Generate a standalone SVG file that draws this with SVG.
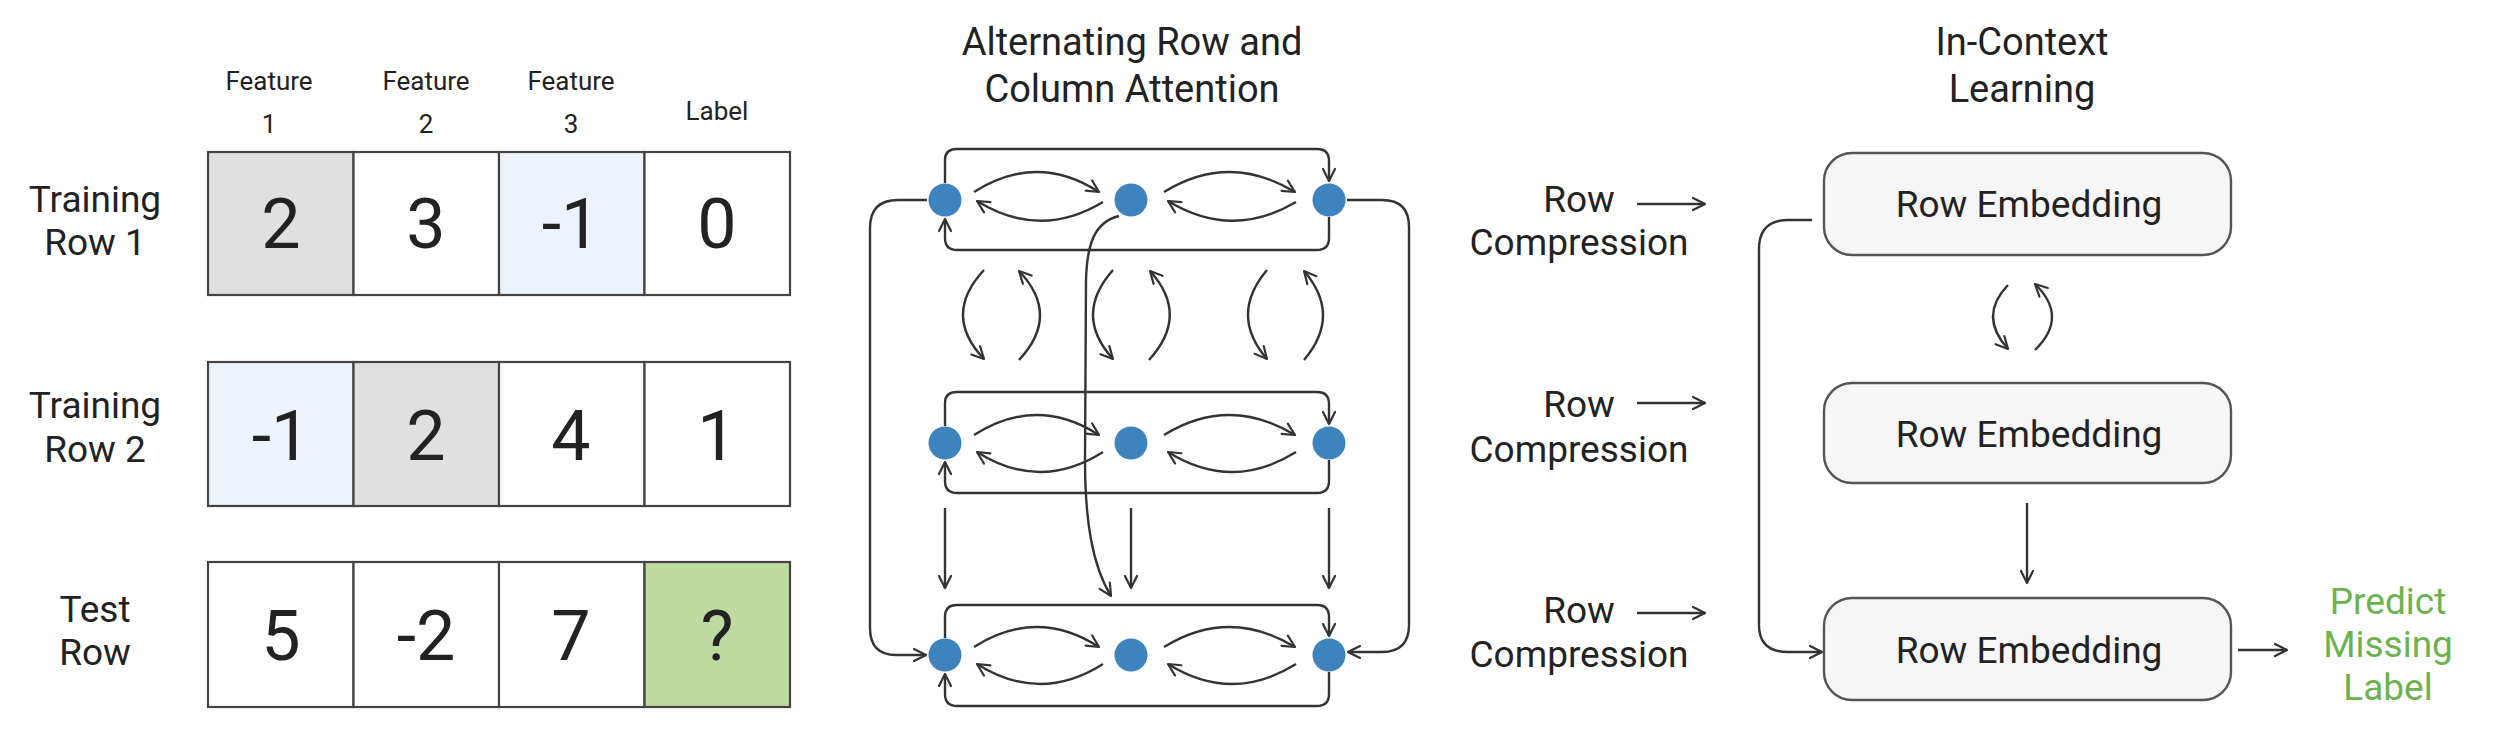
<svg xmlns="http://www.w3.org/2000/svg" width="2500" height="749" viewBox="0 0 2500 749">
<defs>
<style>
text{font-family:Roboto,"Liberation Sans",sans-serif;fill:#222;}
.hd{font-size:26px;text-anchor:middle;}
.rl{font-size:37px;text-anchor:middle;}
.num{font-size:70px;text-anchor:middle;}
.ttl{font-size:38px;text-anchor:middle;}
.emb{font-size:37px;text-anchor:middle;}
.pred{font-size:37px;text-anchor:middle;fill:#6cb350;}
.cell{stroke:#444;stroke-width:2.2;}
.c{fill:none;stroke:#333;stroke-width:2.4;}
.a{marker-end:url(#ah);}
.nd{fill:#3d84bf;}
.box{fill:#f5f6f5;stroke:#555;stroke-width:2.4;}
</style>
<marker id="ah" viewBox="0 0 16 16" refX="14" refY="8" markerWidth="16" markerHeight="16" markerUnits="userSpaceOnUse" orient="auto">
<path d="M2,2 L14,8 L2,14" fill="none" stroke="#333" stroke-width="2.2" stroke-linecap="round" stroke-linejoin="round"/>
</marker>
</defs>
<rect width="2500" height="749" fill="#fff"/>

<g id="headers">
<text class="hd" x="269" y="90">Feature</text><text class="hd" x="269" y="133">1</text>
<text class="hd" x="426" y="90">Feature</text><text class="hd" x="426" y="133">2</text>
<text class="hd" x="571" y="90">Feature</text><text class="hd" x="571" y="133">3</text>
<text class="hd" x="717" y="120">Label</text>
</g>

<g id="row1">
<text class="rl" x="95" y="212">Training</text><text class="rl" x="95" y="255">Row 1</text>
<rect class="cell" x="208" y="152" width="145.5" height="143" fill="#dfe0df"/>
<rect class="cell" x="353.5" y="152" width="145.5" height="143" fill="#fff"/>
<rect class="cell" x="499" y="152" width="145.5" height="143" fill="#edf3fa"/>
<rect class="cell" x="644.5" y="152" width="145.5" height="143" fill="#fff"/>
<text class="num" x="281" y="248">2</text>
<text class="num" x="426" y="248">3</text>
<text class="num" x="571" y="248">-1</text>
<text class="num" x="717" y="248">0</text>
</g>

<g id="row2">
<text class="rl" x="95" y="418">Training</text><text class="rl" x="95" y="462">Row 2</text>
<rect class="cell" x="208" y="362" width="145.5" height="144" fill="#edf3fa"/>
<rect class="cell" x="353.5" y="362" width="145.5" height="144" fill="#dfe0df"/>
<rect class="cell" x="499" y="362" width="145.5" height="144" fill="#fff"/>
<rect class="cell" x="644.5" y="362" width="145.5" height="144" fill="#fff"/>
<text class="num" x="281" y="460">-1</text>
<text class="num" x="426" y="460">2</text>
<text class="num" x="571" y="460">4</text>
<text class="num" x="717" y="460">1</text>
</g>

<g id="row3">
<text class="rl" x="95" y="622">Test</text><text class="rl" x="95" y="665">Row</text>
<rect class="cell" x="208" y="562" width="145.5" height="145" fill="#fff"/>
<rect class="cell" x="353.5" y="562" width="145.5" height="145" fill="#fff"/>
<rect class="cell" x="499" y="562" width="145.5" height="145" fill="#fff"/>
<rect class="cell" x="644.5" y="562" width="145.5" height="145" fill="#bfdba0"/>
<text class="num" x="281" y="660">5</text>
<text class="num" x="426" y="660">-2</text>
<text class="num" x="571" y="660">7</text>
<text class="num" x="717" y="660">?</text>
</g>

<g id="title-attention">
<text class="ttl" x="1132" y="55">Alternating Row and</text>
<text class="ttl" x="1132" y="102">Column Attention</text>
</g>
<g id="title-icl">
<text class="ttl" x="2022" y="55">In-Context</text>
<text class="ttl" x="2022" y="102">Learning</text>
</g>

<g id="connectors">
<!-- row 1 (Y=200) -->
<path class="c a" d="M945,183 V160 Q945,149 957,149 H1317 Q1329,149 1329,161 V181"/>
<path class="c a" d="M1329,217 V238 Q1329,250 1317,250 H957 Q945,250 945,238 V219"/>
<path class="c a" d="M974,192 Q1037,152 1099,192"/>
<path class="c a" d="M1103,202 Q1040,240 977,201"/>
<path class="c a" d="M1164,192 Q1229,152 1295,192"/>
<path class="c a" d="M1296,202 Q1232,240 1168,201"/>
<!-- row 2 (Y=443) -->
<path class="c a" d="M945,426 V403 Q945,392 957,392 H1317 Q1329,392 1329,404 V424"/>
<path class="c a" d="M1329,460 V481 Q1329,493 1317,493 H957 Q945,493 945,481 V462"/>
<path class="c a" d="M974,435 Q1037,395 1099,435"/>
<path class="c a" d="M1103,452 Q1040,492 977,452"/>
<path class="c a" d="M1164,435 Q1229,395 1295,435"/>
<path class="c a" d="M1296,452 Q1232,492 1168,452"/>
<!-- row 3 (Y=655) -->
<path class="c a" d="M945,638 V617 Q945,605 957,605 H1317 Q1329,605 1329,617 V636"/>
<path class="c a" d="M1329,672 V694 Q1329,706 1317,706 H957 Q945,706 945,694 V674"/>
<path class="c a" d="M974,647 Q1037,607 1099,647"/>
<path class="c a" d="M1103,664 Q1040,704 977,664"/>
<path class="c a" d="M1164,647 Q1229,607 1295,647"/>
<path class="c a" d="M1296,664 Q1232,704 1168,664"/>
<!-- column attention row1-row2 -->
<path class="c a" d="M984,270 Q942,315 984,359"/>
<path class="c a" d="M1019,360 Q1061,315 1019,271"/>
<path class="c a" d="M1113,270 Q1073,315 1113,359"/>
<path class="c a" d="M1149,360 Q1190,315 1150,271"/>
<path class="c a" d="M1267,270 Q1229,315 1267,359"/>
<path class="c a" d="M1304,360 Q1342,315 1304,271"/>
<!-- vertical row2-row3 -->
<path class="c a" d="M945,508 V588"/>
<path class="c a" d="M1131,508 V588"/>
<path class="c a" d="M1329,508 V588"/>
<!-- long curve -->
<path class="c a" d="M1119,216 C1094,222 1087,245 1086,280 L1085,460 C1085,520 1092,565 1111,596"/>
<!-- outer left / right -->
<path class="c a" d="M927,200 H898 Q870,200 870,228 V628 Q870,655 896,655 H926"/>
<path class="c a" d="M1347,200 H1382 Q1409,200 1409,227 V625 Q1409,652 1382,652 H1348"/>
<!-- row compression arrows -->
<path class="c a" d="M1637,204 H1705"/>
<path class="c a" d="M1637,403 H1705"/>
<path class="c a" d="M1637,613 H1705"/>
<!-- ICL -->
<path class="c a" d="M1812,220 H1788 Q1759,220 1759,249 V625 Q1759,652 1788,652 H1822"/>
<path class="c a" d="M2008,285 Q1978,316 2008,349"/>
<path class="c a" d="M2035,350 Q2069,317 2035,284"/>
<path class="c a" d="M2027,503 V583"/>
<path class="c a" d="M2238,650 H2287"/>
</g>

<g id="nodes-row1">
<circle class="nd" cx="945" cy="200" r="16.5"/><circle class="nd" cx="1131" cy="200" r="16.5"/><circle class="nd" cx="1329" cy="200" r="16.5"/>
</g>
<g id="nodes-row2">
<circle class="nd" cx="945" cy="443" r="16.5"/><circle class="nd" cx="1131" cy="443" r="16.5"/><circle class="nd" cx="1329" cy="443" r="16.5"/>
</g>
<g id="nodes-row3">
<circle class="nd" cx="945" cy="655" r="16.5"/><circle class="nd" cx="1131" cy="655" r="16.5"/><circle class="nd" cx="1329" cy="655" r="16.5"/>
</g>

<g id="compression1"><text class="emb" x="1579" y="212">Row</text><text class="emb" x="1579" y="255">Compression</text></g>
<g id="compression2"><text class="emb" x="1579" y="417">Row</text><text class="emb" x="1579" y="462">Compression</text></g>
<g id="compression3"><text class="emb" x="1579" y="623">Row</text><text class="emb" x="1579" y="667">Compression</text></g>

<g id="embedding1"><rect class="box" x="1824" y="153" width="407" height="102" rx="28"/><text class="emb" x="2029" y="217">Row Embedding</text></g>
<g id="embedding2"><rect class="box" x="1824" y="383" width="407" height="100" rx="28"/><text class="emb" x="2029" y="447">Row Embedding</text></g>
<g id="embedding3"><rect class="box" x="1824" y="598" width="407" height="102" rx="28"/><text class="emb" x="2029" y="663">Row Embedding</text></g>

<g id="predict">
<text class="pred" x="2388" y="614">Predict</text>
<text class="pred" x="2388" y="657">Missing</text>
<text class="pred" x="2388" y="700">Label</text>
</g>
</svg>
